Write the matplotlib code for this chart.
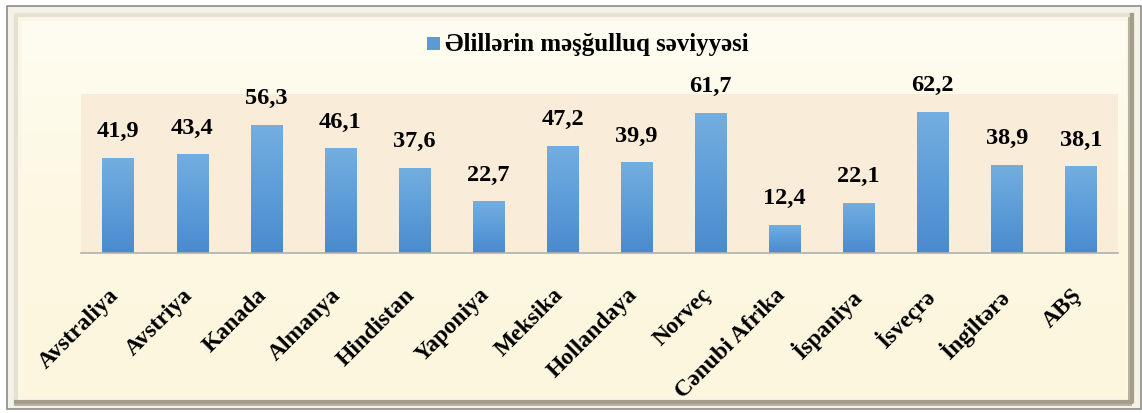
import numpy as np
import matplotlib.pyplot as plt
from matplotlib.patches import Rectangle
from matplotlib.colors import LinearSegmentedColormap
from matplotlib.transforms import ScaledTranslation

countries = ['Avstraliya', 'Avstriya', 'Kanada', 'Almanya', 'Hindistan', 'Yaponiya',
             'Meksika', 'Hollandaya', 'Norveç', 'Cənubi Afrika', 'İspaniya',
             'İsveçrə', 'İngiltərə', 'ABŞ']
values = [41.9, 43.4, 56.3, 46.1, 37.6, 22.7, 47.2, 39.9, 61.7, 12.4, 22.1, 62.2, 38.9, 38.1]
series_name = 'Əlillərin məşğulluq səviyyəsi'

plt.rcParams['font.family'] = ['Liberation Serif', 'DejaVu Serif']
plt.rcParams['font.weight'] = 'bold'

W, H = 1142, 414
fig = plt.figure(figsize=(W / 100, H / 100), dpi=100)
fig.patch.set_facecolor('white')

# background frame
bg = fig.add_axes([0, 0, 1, 1])
bg.set_xlim(0, W)
bg.set_ylim(H, 0)
bg.axis('off')
bg.add_patch(Rectangle((7, 7), W - 8, 403, facecolor='#f4f1e6', edgecolor='#8c8c8c', lw=1.2))
bg.add_patch(Rectangle((14, 14), W - 24, 393, facecolor='#b9b3a0', edgecolor='none'))
bg.add_patch(Rectangle((14, 14), W - 28, 388, facecolor='#fbf7e8', edgecolor='none'))
grad = np.linspace(0, 1, 200)[:, None]
cream = LinearSegmentedColormap.from_list('cream', ['#fffdf2', '#fdf8e2', '#fcf6de'])
bg.imshow(grad, cmap=cream, extent=(22, W - 16, 398, 22), aspect='auto', zorder=2)
bg.plot([16, 16, W - 12], [400, 16, 16], color='#e6e1d0', lw=3, zorder=3)
bg.plot([16, W - 10, W - 10], [403, 403, 16], color='#a39e8c', lw=3, zorder=3)

# legend drawn by hand: blue square + series name
bg.add_patch(Rectangle((427, 38), 13, 13, facecolor='#5b9bd5', edgecolor='none', zorder=4))
bg.text(445, 45, series_name, ha='left', va='center', fontsize=18,
        fontweight='bold', family='Liberation Serif', zorder=4)

ax = fig.add_axes([81 / W, 1 - 254 / H, (1118 - 81) / W, (254 - 95) / H])
ax.set_facecolor('#f9ecd8')
x = np.arange(len(countries))
bars = ax.bar(x, values, width=0.42, color='#5b9bd5', edgecolor='none', zorder=3)

# vertical gradient inside each bar
blue = LinearSegmentedColormap.from_list('blue', ['#4a8bcf', '#5d9dd8', '#74aee0'])
for b in bars:
    x0, y0 = b.get_x(), b.get_y()
    im = ax.imshow(np.linspace(0, 1, 100)[:, None], cmap=blue, origin='lower',
                   extent=(x0, x0 + b.get_width(), y0, y0 + b.get_height()),
                   aspect='auto', zorder=4)
    im.set_clip_path(b)

ax.set_xlim(-0.5, len(countries) - 0.5)
ax.set_ylim(0, 70)
ax.set_yticks([])
for s in ['top', 'left', 'right']:
    ax.spines[s].set_visible(False)
ax.spines['bottom'].set_color('#b0b0b0')
ax.spines['bottom'].set_linewidth(1.2)
ax.spines['bottom'].set_zorder(5)

for xi, v in zip(x, values):
    ax.annotate(f'{v:.1f}'.replace('.', ','), (xi, v), xytext=(0, 12),
                textcoords='offset points', ha='center', va='bottom',
                fontsize=17.5, fontweight='bold', zorder=6)

ax.set_xticks(x)
ax.set_xticklabels(countries, rotation=45, ha='right', va='top',
                   rotation_mode='anchor', fontsize=17, fontweight='bold')
ax.tick_params(axis='x', length=0, pad=22)
shift = ScaledTranslation(-10 / 100, 0, fig.dpi_scale_trans)
for lbl in ax.get_xticklabels():
    lbl.set_transform(lbl.get_transform() + shift)

fig.savefig('out.png', dpi=100)
